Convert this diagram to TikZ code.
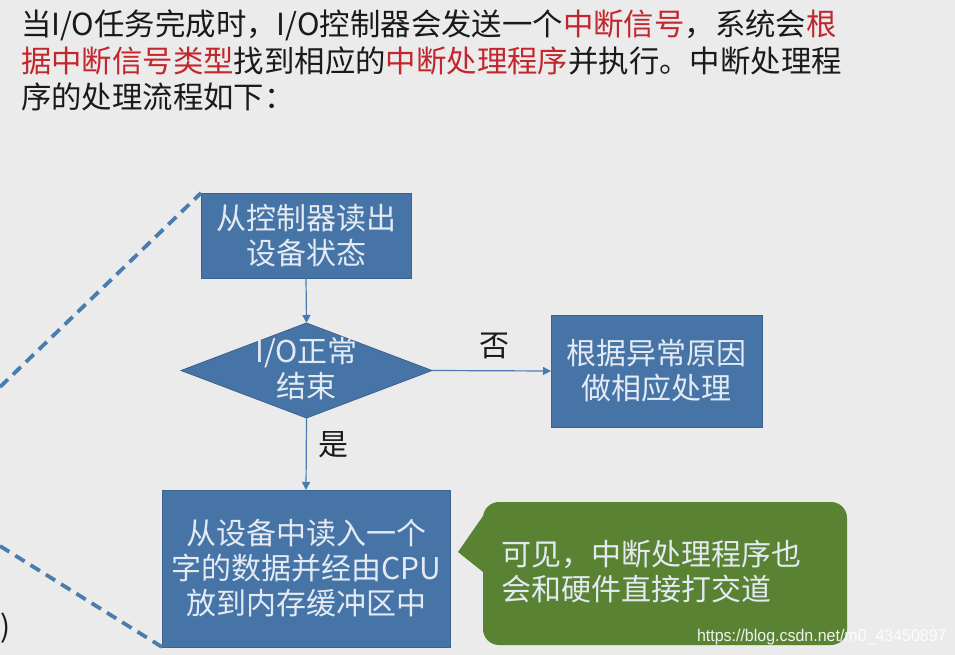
\documentclass[tikz,border=0pt]{standalone}
\usepackage{fontspec}
\setmainfont{Noto Sans CJK SC}
\newfontfamily\wmfont{Liberation Sans}
\usetikzlibrary{arrows.meta,shapes.geometric}
\definecolor{bgc}{HTML}{EBEBEB}
\definecolor{boxc}{HTML}{4674A6}
\definecolor{boxd}{HTML}{3B6390}
\definecolor{boxt}{HTML}{E3EAF3}
\definecolor{linec}{HTML}{4A7BB0}
\definecolor{dashc}{HTML}{4A7DAF}
\definecolor{greenc}{HTML}{5A8233}
\definecolor{redc}{HTML}{C1272D}
\definecolor{txtc}{HTML}{1A1A1A}
\begin{document}
\begin{tikzpicture}[x=1pt,y=-1pt,
  every node/.style={inner sep=0pt, outer sep=0pt},
  bigfont/.style={font=\fontsize{30}{35}\selectfont},
  headfont/.style={font=\fontsize{30.4}{35}\selectfont},
  flowbox/.style={rectangle, fill=boxc, draw=boxd, line width=0.8pt, text=boxt, align=center, bigfont},
  flowdia/.style={diamond, fill=boxc, draw=boxd, line width=0.8pt, minimum width=251pt, minimum height=95pt},
  arr/.style={draw=linec, line width=1.2pt, -{Triangle[length=8pt,width=8pt]}},
  dashln/.style={draw=dashc, line width=3.8pt, dash pattern=on 11pt off 7pt},
  headtext/.style={anchor=base west, headfont, text=txtc},
  lbl/.style={bigfont, text=txtc},
  callbox/.style={rectangle, rounded corners=16pt, fill=greenc, minimum width=364pt, minimum height=143pt},
  calltxt/.style={anchor=west, bigfont, text=boxt, align=left},
  wmark/.style={anchor=base west, font=\wmfont\fontsize{17}{17}\selectfont, text=white, opacity=0.9, xscale=0.94}
]
\fill[bgc] (0,0) rectangle (955,655);
\useasboundingbox (0,0) rectangle (955,655);

% header text
\node[headtext] (h1) at (21,36) {当I/O任务完成时，I/O控制器会发送一个\textcolor{redc}{中断信号}，系统会\textcolor{redc}{根}};
\node[headtext] (h2) at (21,73) {\textcolor{redc}{据中断信号类型}找到相应的\textcolor{redc}{中断处理程序}并执行。中断处理程};
\node[headtext] (h3) at (21,109) {序的处理流程如下：};

% dashed zoom lines
\coordinate (d1) at (0,387);
\coordinate (d2) at (0,546);

% flow nodes
\node[flowbox, minimum width=210pt, minimum height=85pt] (box1) at (306,235.5) {从控制器读出\\设备状态};
\node[flowdia] (dia) at (306.5,370.5) {};
\node[lbl, text=boxt, align=center] (diatext) at (306.5,369) {I/O正常\\结束};
\node[flowbox, minimum width=211pt, minimum height=112pt] (box2) at (656.5,371) {根据异常原因\\做相应处理};
\node[flowbox, minimum width=288pt, minimum height=157pt] (box3) at (306,568.5) {从设备中读入一个\\字的数据并经由CPU\\放到内存缓冲区中};

\draw[dashln] (d1) -- (box1.north west);
\draw[dashln] (d2) -- (box3.south west);

% connectors
\draw[arr] (box1.south) -- (dia.north);
\draw[arr] (dia.east) -- (box2.west);
\draw[arr] (dia.south) -- (box3.north);
\node[lbl] (no) at (494,346) {否};
\node[lbl] (yes) at (333,445) {是};

% callout
\node[callbox] (call) at (665,573.5) {};
\coordinate (tip) at (458,552);
\fill[greenc] (call.west |- 0,516) -- (tip) -- (call.west |- 0,572) -- cycle;
\node[calltxt] (calltext) at (501,572) {可见，中断处理程序也\\会和硬件直接打交道};

% partial text at left edge
\node[lbl, anchor=west] (paren) at (1,628) {)};

% watermark
\node[wmark] (wm) at (697,641) {https://blog.csdn.net/m0\_43450897};
\end{tikzpicture}
\end{document}
